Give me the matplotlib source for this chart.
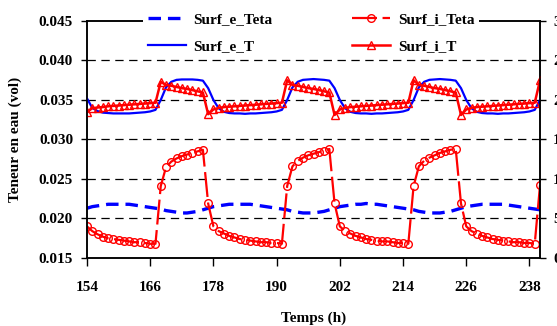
import numpy as np
import matplotlib
matplotlib.use('Agg')
import matplotlib.pyplot as plt
from matplotlib.ticker import FormatStrFormatter

plt.rcParams['font.family'] = ['Liberation Serif', 'DejaVu Serif']
plt.rcParams['font.weight'] = 'bold'
plt.rcParams['font.size'] = 11
plt.rcParams['lines.scale_dashes'] = False

# temps (h), un point par heure
hours = np.arange(154, 241)

# teneur en eau (vol) - axe gauche
surf_e_teta = [
    0.0213, 0.0215, 0.0216, 0.0217, 0.0218, 0.0218, 0.0218, 0.0218, 0.0218, 0.0217, 0.0216, 0.0215,
    0.0214, 0.0213, 0.0212, 0.0210, 0.0209, 0.0208, 0.0207, 0.0207, 0.0208, 0.0209, 0.0211, 0.0213,
    0.0215, 0.0216, 0.0217, 0.0218, 0.0218, 0.0218, 0.0218, 0.0218, 0.0217, 0.0216, 0.0215, 0.0214,
    0.0213, 0.0212, 0.0211, 0.0209, 0.0208, 0.0207, 0.0207, 0.0207, 0.0208, 0.0209, 0.0211, 0.0213,
    0.0215, 0.0216, 0.0217, 0.0218, 0.0218, 0.0219, 0.0218, 0.0218, 0.0217, 0.0216, 0.0215, 0.0214,
    0.0213, 0.0212, 0.0211, 0.0209, 0.0208, 0.0207, 0.0207, 0.0207, 0.0208, 0.0209, 0.0211, 0.0213,
    0.0215, 0.0216, 0.0217, 0.0218, 0.0218, 0.0218, 0.0218, 0.0218, 0.0217, 0.0216, 0.0215, 0.0214,
    0.0213, 0.0212, 0.0211,
]
surf_i_teta = [
    0.0190, 0.0184, 0.0180, 0.0177, 0.0175, 0.0174, 0.0173, 0.0172, 0.0171, 0.0170, 0.0170, 0.0169,
    0.0168, 0.0168, 0.0241, 0.0265, 0.0272, 0.0276, 0.0279, 0.0281, 0.0283, 0.0285, 0.0287, 0.0219,
    0.0190, 0.0184, 0.0181, 0.0178, 0.0176, 0.0174, 0.0173, 0.0172, 0.0171, 0.0170, 0.0170, 0.0169,
    0.0169, 0.0168, 0.0241, 0.0266, 0.0273, 0.0277, 0.0280, 0.0282, 0.0284, 0.0286, 0.0288, 0.0219,
    0.0190, 0.0184, 0.0181, 0.0178, 0.0176, 0.0174, 0.0173, 0.0172, 0.0171, 0.0171, 0.0170, 0.0169,
    0.0169, 0.0168, 0.0241, 0.0266, 0.0273, 0.0277, 0.0280, 0.0283, 0.0285, 0.0287, 0.0288, 0.0219,
    0.0190, 0.0184, 0.0181, 0.0178, 0.0176, 0.0174, 0.0173, 0.0172, 0.0171, 0.0170, 0.0170, 0.0169,
    0.0169, 0.0168, 0.0242,
]

# temperature - axe droit
surf_e_t = [
    20.2, 19.0, 18.6, 18.4, 18.35, 18.3, 18.3, 18.3, 18.3, 18.35, 18.4, 18.45,
    18.55, 18.75, 20.0, 21.6, 22.3, 22.55, 22.6, 22.6, 22.6, 22.55, 22.45, 21.5,
    20.0, 18.95, 18.5, 18.35, 18.3, 18.3, 18.25, 18.3, 18.3, 18.35, 18.4, 18.45,
    18.55, 18.75, 20.0, 21.6, 22.3, 22.55, 22.6, 22.65, 22.6, 22.55, 22.45, 21.5,
    20.0, 18.95, 18.5, 18.35, 18.3, 18.3, 18.25, 18.3, 18.3, 18.35, 18.4, 18.45,
    18.55, 18.75, 20.0, 21.6, 22.3, 22.55, 22.6, 22.65, 22.6, 22.55, 22.45, 21.5,
    20.0, 18.95, 18.5, 18.35, 18.3, 18.3, 18.25, 18.3, 18.3, 18.35, 18.4, 18.45,
    18.55, 18.75, 20.0,
]
surf_i_t = [
    18.5, 18.95, 19.05, 19.1, 19.2, 19.25, 19.3, 19.35, 19.4, 19.45, 19.5, 19.55,
    19.6, 19.65, 22.3, 21.9, 21.8, 21.65, 21.5, 21.4, 21.25, 21.1, 20.95, 18.2,
    18.8, 19.0, 19.1, 19.15, 19.2, 19.25, 19.3, 19.35, 19.4, 19.45, 19.5, 19.55,
    19.6, 19.65, 22.5, 21.9, 21.8, 21.65, 21.5, 21.4, 21.25, 21.1, 20.95, 18.1,
    18.8, 19.0, 19.1, 19.15, 19.2, 19.25, 19.3, 19.35, 19.4, 19.45, 19.5, 19.55,
    19.6, 19.65, 22.5, 21.9, 21.8, 21.65, 21.5, 21.4, 21.25, 21.1, 20.95, 18.1,
    18.8, 19.0, 19.1, 19.15, 19.2, 19.25, 19.3, 19.35, 19.4, 19.45, 19.5, 19.55,
    19.6, 19.65, 22.5,
]

x_ticks = [154, 166, 178, 190, 202, 214, 226, 238]
y_ticks = [0.015, 0.020, 0.025, 0.030, 0.035, 0.040, 0.045]
y2_ticks = [0, 5, 10, 15, 20, 25, 30]

fig = plt.figure(figsize=(5.57, 3.26), dpi=100)
ax = fig.add_axes([0.1562, 0.2086, 0.8133, 0.7270])
ax2 = ax.twinx()

# grille horizontale en tirets
for y in y_ticks[1:-1]:
    ax.axhline(y, color='black', lw=0.9, ls=(0, (6, 4)), zorder=0)

h1, = ax.plot(hours, surf_e_teta, color='#0000ff', lw=2.4, ls=(0, (9, 5)), label='Surf_e_Teta')
h2, = ax.plot(hours, surf_i_teta, color='#ff0000', lw=1.6, ls=(0, (18, 4)),
              marker='o', ms=5.5, mfc='none', mec='#ff0000', mew=1.0, label='Surf_i_Teta')
h3, = ax2.plot(hours, surf_e_t, color='#0000ff', lw=1.6, label='Surf_e_T')
h4, = ax2.plot(hours, surf_i_t, color='#ff0000', lw=1.8,
               marker='^', ms=5.5, mfc='none', mec='#ff0000', mew=1.0, label='Surf_i_T')

ax.set_xlim(154, 240)
ax.set_ylim(0.015, 0.045)
ax2.set_ylim(0, 30)
ax.set_xticks(x_ticks)
ax.set_yticks(y_ticks)
ax2.set_yticks(y2_ticks)
ax.yaxis.set_major_formatter(FormatStrFormatter('%.3f'))

for a in (ax, ax2):
    for s in a.spines.values():
        s.set_linewidth(1.1)
ax.tick_params(axis='y', direction='out', length=4.5, width=1, pad=5.5)
ax.tick_params(axis='x', direction='out', length=6, width=1, pad=10.5)
ax2.tick_params(axis='y', direction='out', length=4.5, width=1, pad=5)

ax.set_xlabel('Temps (h)', fontweight='bold', labelpad=13)
ax.set_ylabel('Teneur en eau (vol)', fontweight='bold', labelpad=12)

ax2.legend(handles=[h1, h3, h2, h4], ncol=2, loc='upper left',
           bbox_to_anchor=(0.257, 0.975), bbox_transform=fig.transFigure,
           frameon=True, facecolor='white', edgecolor='none', framealpha=1,
           fancybox=False, numpoints=1, handlelength=2.5, handletextpad=0.5,
           columnspacing=5.2, labelspacing=0.85, borderpad=0.3, borderaxespad=0)

fig.savefig('out.png', dpi=100)
